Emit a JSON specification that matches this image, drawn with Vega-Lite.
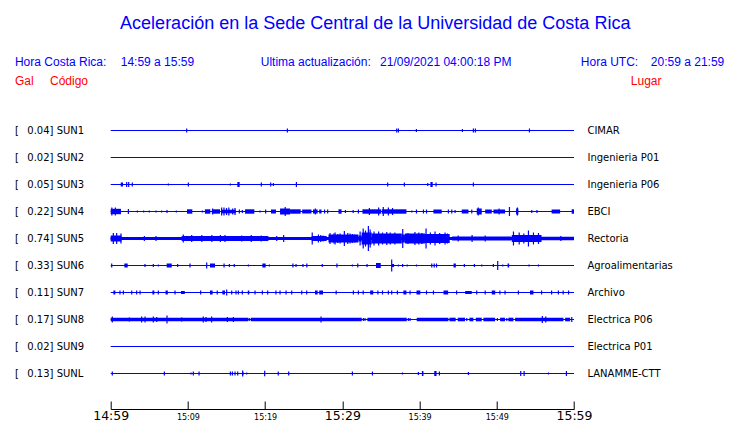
{
  "$schema": "https://vega.github.io/schema/vega-lite/v6.json",
  "autosize": {"type": "none"},
  "width": 463.3,
  "height": 243,
  "padding": {"left": 110.7, "top": 130.5, "right": 166, "bottom": 49.5},
  "background": "white",
  "config": {"view": {"stroke": null}},
  "datasets": {
    "stations": [
      {"s": "SUN1", "gal": "0.04", "lugar": "CIMAR"},
      {"s": "SUN2", "gal": "0.02", "lugar": "Ingenieria P01"},
      {"s": "SUN3", "gal": "0.05", "lugar": "Ingenieria P06"},
      {"s": "SUN4", "gal": "0.22", "lugar": "EBCI"},
      {"s": "SUN5", "gal": "0.74", "lugar": "Rectoria"},
      {"s": "SUN6", "gal": "0.33", "lugar": "Agroalimentarias"},
      {"s": "SUN7", "gal": "0.11", "lugar": "Archivo"},
      {"s": "SUN8", "gal": "0.17", "lugar": "Electrica P06"},
      {"s": "SUN9", "gal": "0.02", "lugar": "Electrica P01"},
      {"s": "SUNL", "gal": "0.13", "lugar": "LANAMME-CTT"}
    ],
    "spikes": [
      {"s":"SUN1","t":9.84,"a":2},{"s":"SUN1","t":22.88,"a":2},{"s":"SUN1","t":37.04,"a":2},{"s":"SUN1","t":37.26,"a":2},{"s":"SUN1","t":39.59,"a":1.5},{"s":"SUN1","t":45.55,"a":1.5},{"s":"SUN1","t":46.97,"a":2},{"s":"SUN1","t":47.23,"a":2},{"s":"SUN1","t":54.23,"a":2},
      {"s":"SUN3","t":2.07,"a":2.5},{"s":"SUN3","t":2.33,"a":2.5},{"s":"SUN3","t":2.8,"a":2},{"s":"SUN3","t":7.47,"a":1},{"s":"SUN3","t":10.06,"a":2},{"s":"SUN3","t":15.5,"a":1},{"s":"SUN3","t":19.51,"a":2},{"s":"SUN3","t":20.72,"a":2},{"s":"SUN3","t":21.07,"a":1.5},{"s":"SUN3","t":24.05,"a":2.5},{"s":"SUN3","t":35.87,"a":2},{"s":"SUN3","t":38.03,"a":2},{"s":"SUN3","t":41.06,"a":1.5},{"s":"SUN3","t":42.13,"a":2},{"s":"SUN3","t":46.97,"a":2},
      {"s":"SUN4","t":0.15,"a":4},{"s":"SUN4","t":0.6,"a":4},{"s":"SUN4","t":2.29,"a":2.5},{"s":"SUN4","t":3.45,"a":1},{"s":"SUN4","t":4.27,"a":1},{"s":"SUN4","t":5.0,"a":1},{"s":"SUN4","t":5.87,"a":1},{"s":"SUN4","t":6.6,"a":1},{"s":"SUN4","t":7.29,"a":1.5},{"s":"SUN4","t":8.5,"a":1},{"s":"SUN4","t":11.87,"a":1},{"s":"SUN4","t":13.2,"a":3},{"s":"SUN4","t":14.37,"a":4},{"s":"SUN4","t":14.67,"a":4},{"s":"SUN4","t":15.0,"a":3.5},{"s":"SUN4","t":15.3,"a":4},{"s":"SUN4","t":15.8,"a":3},{"s":"SUN4","t":16.1,"a":3.5},{"s":"SUN4","t":16.66,"a":2},{"s":"SUN4","t":17.05,"a":1.5},{"s":"SUN4","t":19.34,"a":1},{"s":"SUN4","t":20.07,"a":2},{"s":"SUN4","t":22.6,"a":4.5},{"s":"SUN4","t":26.5,"a":3},{"s":"SUN4","t":27.7,"a":2},{"s":"SUN4","t":28.1,"a":2},{"s":"SUN4","t":30.4,"a":1.5},{"s":"SUN4","t":31.4,"a":1.5},{"s":"SUN4","t":32.08,"a":2},{"s":"SUN4","t":33.5,"a":3.5},{"s":"SUN4","t":34.7,"a":4},{"s":"SUN4","t":35.3,"a":4.5},{"s":"SUN4","t":35.96,"a":4},{"s":"SUN4","t":36.5,"a":3.5},{"s":"SUN4","t":39.0,"a":1},{"s":"SUN4","t":39.6,"a":2},{"s":"SUN4","t":40.5,"a":2},{"s":"SUN4","t":40.9,"a":2},{"s":"SUN4","t":43.73,"a":2},{"s":"SUN4","t":44.17,"a":2},{"s":"SUN4","t":44.6,"a":1.5},{"s":"SUN4","t":46.76,"a":2},{"s":"SUN4","t":47.6,"a":4},{"s":"SUN4","t":50.3,"a":3},{"s":"SUN4","t":51.64,"a":4.5},{"s":"SUN4","t":52.67,"a":4},{"s":"SUN4","t":54.53,"a":1.5},{"s":"SUN4","t":55.2,"a":1.5},
      {"s":"SUN5","t":0.34,"a":5.5},{"s":"SUN5","t":0.77,"a":5.5},{"s":"SUN5","t":1.33,"a":5},{"s":"SUN5","t":4.36,"a":2.5},{"s":"SUN5","t":5.87,"a":2.5},{"s":"SUN5","t":9.4,"a":4},{"s":"SUN5","t":10.49,"a":3.5},{"s":"SUN5","t":11.8,"a":3.5},{"s":"SUN5","t":13.1,"a":3.5},{"s":"SUN5","t":14.2,"a":3.5},{"s":"SUN5","t":14.8,"a":3.5},{"s":"SUN5","t":16.96,"a":3},{"s":"SUN5","t":18.2,"a":3.5},{"s":"SUN5","t":19.5,"a":3},{"s":"SUN5","t":21.5,"a":2.5},{"s":"SUN5","t":22.4,"a":3.5},{"s":"SUN5","t":26.1,"a":6},{"s":"SUN5","t":26.9,"a":4},{"s":"SUN5","t":27.2,"a":3.5},{"s":"SUN5","t":27.5,"a":3},{"s":"SUN5","t":28.4,"a":5.5},{"s":"SUN5","t":28.9,"a":5},{"s":"SUN5","t":29.06,"a":6},{"s":"SUN5","t":29.4,"a":4.5},{"s":"SUN5","t":29.7,"a":5},{"s":"SUN5","t":30.26,"a":7.5},{"s":"SUN5","t":30.7,"a":5.5},{"s":"SUN5","t":31.0,"a":5},{"s":"SUN5","t":31.3,"a":4.5},{"s":"SUN5","t":31.6,"a":4},{"s":"SUN5","t":32.3,"a":7},{"s":"SUN5","t":32.7,"a":10},{"s":"SUN5","t":33.0,"a":8},{"s":"SUN5","t":33.37,"a":12.5},{"s":"SUN5","t":33.6,"a":9},{"s":"SUN5","t":34.1,"a":7},{"s":"SUN5","t":34.7,"a":7},{"s":"SUN5","t":35.2,"a":6},{"s":"SUN5","t":35.75,"a":6.5},{"s":"SUN5","t":36.2,"a":6},{"s":"SUN5","t":36.8,"a":6},{"s":"SUN5","t":37.82,"a":9.5},{"s":"SUN5","t":38.5,"a":5.5},{"s":"SUN5","t":39.4,"a":6.5},{"s":"SUN5","t":39.9,"a":6},{"s":"SUN5","t":40.3,"a":5.5},{"s":"SUN5","t":40.84,"a":10},{"s":"SUN5","t":41.4,"a":6},{"s":"SUN5","t":42.0,"a":7},{"s":"SUN5","t":42.6,"a":5.5},{"s":"SUN5","t":43.3,"a":6},{"s":"SUN5","t":43.6,"a":5},{"s":"SUN5","t":45.0,"a":3},{"s":"SUN5","t":46.8,"a":3.5},{"s":"SUN5","t":48.5,"a":3},{"s":"SUN5","t":52.16,"a":7},{"s":"SUN5","t":52.9,"a":6},{"s":"SUN5","t":53.5,"a":5},{"s":"SUN5","t":54.1,"a":8},{"s":"SUN5","t":54.75,"a":6},{"s":"SUN5","t":55.4,"a":5.5},{"s":"SUN5","t":58.3,"a":2.5},
      {"s":"SUN6","t":0.13,"a":2},{"s":"SUN6","t":4.44,"a":1.5},{"s":"SUN6","t":5.52,"a":1.5},{"s":"SUN6","t":6.17,"a":1},{"s":"SUN6","t":8.67,"a":1.5},{"s":"SUN6","t":10.27,"a":2},{"s":"SUN6","t":12.43,"a":3},{"s":"SUN6","t":14.68,"a":2},{"s":"SUN6","t":15.37,"a":1.5},{"s":"SUN6","t":16.0,"a":1.5},{"s":"SUN6","t":17.83,"a":1},{"s":"SUN6","t":20.55,"a":1},{"s":"SUN6","t":23.6,"a":2},{"s":"SUN6","t":24.0,"a":1.5},{"s":"SUN6","t":24.9,"a":1.5},{"s":"SUN6","t":25.4,"a":2},{"s":"SUN6","t":27.4,"a":1.5},{"s":"SUN6","t":29.3,"a":2},{"s":"SUN6","t":31.3,"a":1},{"s":"SUN6","t":32.0,"a":2},{"s":"SUN6","t":33.2,"a":1.5},{"s":"SUN6","t":36.39,"a":6},{"s":"SUN6","t":37.26,"a":1},{"s":"SUN6","t":37.8,"a":1.5},{"s":"SUN6","t":38.4,"a":1},{"s":"SUN6","t":39.6,"a":1},{"s":"SUN6","t":41.58,"a":2},{"s":"SUN6","t":41.9,"a":2},{"s":"SUN6","t":42.2,"a":2},{"s":"SUN6","t":45.8,"a":1.5},{"s":"SUN6","t":47.1,"a":1.5},{"s":"SUN6","t":48.05,"a":1},{"s":"SUN6","t":49.56,"a":1.5},{"s":"SUN6","t":50.12,"a":4.5},{"s":"SUN6","t":50.77,"a":1},{"s":"SUN6","t":54.18,"a":1},{"s":"SUN6","t":55.4,"a":1},
      {"s":"SUN7","t":1.2,"a":2},{"s":"SUN7","t":1.64,"a":2},{"s":"SUN7","t":2.72,"a":2},{"s":"SUN7","t":3.36,"a":2},{"s":"SUN7","t":3.8,"a":2},{"s":"SUN7","t":6.17,"a":2},{"s":"SUN7","t":8.33,"a":2},{"s":"SUN7","t":11.65,"a":2},{"s":"SUN7","t":13.8,"a":2},{"s":"SUN7","t":15.02,"a":3},{"s":"SUN7","t":15.67,"a":2},{"s":"SUN7","t":16.23,"a":2},{"s":"SUN7","t":16.53,"a":2},{"s":"SUN7","t":17.05,"a":2},{"s":"SUN7","t":18.69,"a":2},{"s":"SUN7","t":19.64,"a":2},{"s":"SUN7","t":20.33,"a":2},{"s":"SUN7","t":21.4,"a":2},{"s":"SUN7","t":21.93,"a":2},{"s":"SUN7","t":22.71,"a":2},{"s":"SUN7","t":23.44,"a":2},{"s":"SUN7","t":24.74,"a":2},{"s":"SUN7","t":25.38,"a":2},{"s":"SUN7","t":29.2,"a":2},{"s":"SUN7","t":31.43,"a":2},{"s":"SUN7","t":32.08,"a":2},{"s":"SUN7","t":32.7,"a":2},{"s":"SUN7","t":34.6,"a":2},{"s":"SUN7","t":35.2,"a":2},{"s":"SUN7","t":35.96,"a":2},{"s":"SUN7","t":36.39,"a":2},{"s":"SUN7","t":37.13,"a":2},{"s":"SUN7","t":38.77,"a":2},{"s":"SUN7","t":40.9,"a":2},{"s":"SUN7","t":41.8,"a":2},{"s":"SUN7","t":44.8,"a":2},{"s":"SUN7","t":47.4,"a":2},{"s":"SUN7","t":48.5,"a":2},{"s":"SUN7","t":50.4,"a":2},{"s":"SUN7","t":51.07,"a":2},{"s":"SUN7","t":52.8,"a":2},{"s":"SUN7","t":55.8,"a":2},{"s":"SUN7","t":57.1,"a":2},{"s":"SUN7","t":57.98,"a":2},{"s":"SUN7","t":58.6,"a":2},{"s":"SUN7","t":59.3,"a":2},
      {"s":"SUN8","t":0.21,"a":3},{"s":"SUN8","t":2.42,"a":2},{"s":"SUN8","t":4.01,"a":3},{"s":"SUN8","t":4.45,"a":3},{"s":"SUN8","t":5.52,"a":3},{"s":"SUN8","t":5.96,"a":2.5},{"s":"SUN8","t":7.29,"a":4},{"s":"SUN8","t":9.19,"a":2},{"s":"SUN8","t":11.99,"a":3},{"s":"SUN8","t":12.34,"a":2.5},{"s":"SUN8","t":13.07,"a":3},{"s":"SUN8","t":15.11,"a":2.5},{"s":"SUN8","t":15.88,"a":2.5},{"s":"SUN8","t":17.95,"a":1.5},{"s":"SUN8","t":27.24,"a":3},{"s":"SUN8","t":32.72,"a":1.5},{"s":"SUN8","t":32.94,"a":1.5},{"s":"SUN8","t":38.55,"a":1.5},{"s":"SUN8","t":38.77,"a":1.5},{"s":"SUN8","t":46.11,"a":1.5},{"s":"SUN8","t":50.08,"a":1.5},{"s":"SUN8","t":51.3,"a":1.5},{"s":"SUN8","t":55.9,"a":3.5},{"s":"SUN8","t":56.34,"a":3},{"s":"SUN8","t":59.71,"a":2.5},
      {"s":"SUNL","t":0.21,"a":2},{"s":"SUNL","t":6.95,"a":2},{"s":"SUNL","t":10.4,"a":1},{"s":"SUNL","t":10.7,"a":2},{"s":"SUNL","t":11.44,"a":2},{"s":"SUNL","t":15.5,"a":2},{"s":"SUNL","t":15.76,"a":2},{"s":"SUNL","t":16.1,"a":2},{"s":"SUNL","t":16.45,"a":2},{"s":"SUNL","t":17.09,"a":3},{"s":"SUNL","t":17.61,"a":1},{"s":"SUNL","t":19.94,"a":2.7},{"s":"SUNL","t":21.7,"a":2},{"s":"SUNL","t":23.05,"a":2},{"s":"SUNL","t":31.3,"a":2},{"s":"SUNL","t":33.9,"a":2},{"s":"SUNL","t":37.78,"a":1},{"s":"SUNL","t":39.85,"a":1.5},{"s":"SUNL","t":42.57,"a":2},{"s":"SUNL","t":46.33,"a":1.5},{"s":"SUNL","t":53.1,"a":2.5},{"s":"SUNL","t":53.54,"a":2.5},{"s":"SUNL","t":56.69,"a":1},{"s":"SUNL","t":59.02,"a":2.5}
    ],
    "bursts": [
      {"s":"SUN3","t":1.3,"t2":1.6,"a":2},{"s":"SUN3","t":16.4,"t2":16.7,"a":2.5},{"s":"SUN3","t":41.4,"t2":41.7,"a":2.5},
      {"s":"SUN4","t":0,"t2":1.33,"a":2.7},{"s":"SUN4","t":9.88,"t2":10.57,"a":2.2},{"s":"SUN4","t":12.2,"t2":12.9,"a":2.2},{"s":"SUN4","t":13.1,"t2":14.16,"a":2.2},{"s":"SUN4","t":14.3,"t2":16.2,"a":1.8},{"s":"SUN4","t":17.4,"t2":18.6,"a":2.2},{"s":"SUN4","t":20.76,"t2":21.4,"a":2},{"s":"SUN4","t":21.93,"t2":23.23,"a":3},{"s":"SUN4","t":23.23,"t2":24.6,"a":2.2},{"s":"SUN4","t":24.8,"t2":26.0,"a":2},{"s":"SUN4","t":26.2,"t2":26.8,"a":2},{"s":"SUN4","t":27.0,"t2":27.3,"a":2},{"s":"SUN4","t":29.5,"t2":29.9,"a":2.2},{"s":"SUN4","t":32.6,"t2":35.0,"a":2.2},{"s":"SUN4","t":35.1,"t2":38.3,"a":2.2},{"s":"SUN4","t":41.79,"t2":42.87,"a":2},{"s":"SUN4","t":45.46,"t2":46.33,"a":2},{"s":"SUN4","t":47.4,"t2":48.05,"a":3},{"s":"SUN4","t":48.5,"t2":49.35,"a":2},{"s":"SUN4","t":49.57,"t2":51.07,"a":2},{"s":"SUN4","t":52.5,"t2":52.8,"a":3},{"s":"SUN4","t":57.1,"t2":58.2,"a":2},{"s":"SUN4","t":59.7,"t2":60,"a":2.2},
      {"s":"SUN5","t":0,"t2":60,"a":1.6},{"s":"SUN5","t":0,"t2":1.4,"a":3},{"s":"SUN5","t":9.19,"t2":20.42,"a":2.5},{"s":"SUN5","t":26.03,"t2":27.97,"a":2.5},{"s":"SUN5","t":28.2,"t2":32.08,"a":4},{"s":"SUN5","t":32.08,"t2":32.5,"a":3},{"s":"SUN5","t":32.5,"t2":33.8,"a":6},{"s":"SUN5","t":33.8,"t2":37.7,"a":5},{"s":"SUN5","t":37.7,"t2":38.1,"a":4},{"s":"SUN5","t":38.1,"t2":40.7,"a":5},{"s":"SUN5","t":40.7,"t2":43.9,"a":4.5},{"s":"SUN5","t":44.2,"t2":51.9,"a":2},{"s":"SUN5","t":51.94,"t2":55.8,"a":3.5},{"s":"SUN5","t":55.8,"t2":60,"a":1.8},
      {"s":"SUN6","t":1.77,"t2":2.2,"a":2},{"s":"SUN6","t":7.25,"t2":7.9,"a":2},{"s":"SUN6","t":12.86,"t2":13.51,"a":2},{"s":"SUN6","t":19.64,"t2":20.07,"a":2},{"s":"SUN6","t":34.36,"t2":34.97,"a":2.5},{"s":"SUN6","t":36.4,"t2":36.7,"a":1.5},{"s":"SUN6","t":44.4,"t2":44.7,"a":2},{"s":"SUN6","t":51.4,"t2":51.6,"a":2},
      {"s":"SUN7","t":0.35,"t2":0.6,"a":2},{"s":"SUN7","t":5.4,"t2":5.65,"a":2},{"s":"SUN7","t":7.1,"t2":7.4,"a":2},{"s":"SUN7","t":9.1,"t2":9.6,"a":1.5},{"s":"SUN7","t":12.86,"t2":13.2,"a":2},{"s":"SUN7","t":14.46,"t2":14.8,"a":2},{"s":"SUN7","t":17.75,"t2":17.95,"a":2},{"s":"SUN7","t":26.46,"t2":26.8,"a":2},{"s":"SUN7","t":27.0,"t2":27.5,"a":2},{"s":"SUN7","t":33.6,"t2":34.0,"a":2},{"s":"SUN7","t":37.9,"t2":38.3,"a":2},{"s":"SUN7","t":39.6,"t2":40.1,"a":2},{"s":"SUN7","t":43.1,"t2":43.7,"a":2},{"s":"SUN7","t":45.9,"t2":46.76,"a":1.5},{"s":"SUN7","t":49.35,"t2":49.8,"a":2},{"s":"SUN7","t":54.3,"t2":54.75,"a":2},
      {"s":"SUN8","t":0,"t2":17.83,"a":1.8},{"s":"SUN8","t":18.13,"t2":32.51,"a":1.8},{"s":"SUN8","t":33.24,"t2":38.34,"a":1.8},{"s":"SUN8","t":39.63,"t2":43.74,"a":1.8},{"s":"SUN8","t":43.87,"t2":44.68,"a":1.8},{"s":"SUN8","t":44.94,"t2":45.89,"a":1.8},{"s":"SUN8","t":46.45,"t2":46.97,"a":1.8},{"s":"SUN8","t":47.28,"t2":48.05,"a":1.8},{"s":"SUN8","t":48.27,"t2":49.78,"a":1.8},{"s":"SUN8","t":50.43,"t2":51.07,"a":1.8},{"s":"SUN8","t":51.5,"t2":52.15,"a":1.8},{"s":"SUN8","t":52.37,"t2":58.63,"a":1.8},{"s":"SUN8","t":58.85,"t2":59.5,"a":1.8},
      {"s":"SUNL","t":17.0,"t2":17.2,"a":1.5},{"s":"SUNL","t":40.3,"t2":40.5,"a":2.5},{"s":"SUNL","t":41.9,"t2":42.2,"a":2.5}
    ]
  },
  "layer": [
    {
      "data": {"name": "stations"},
      "transform": [{"calculate": "-27*indexof(['SUN1','SUN2','SUN3','SUN4','SUN5','SUN6','SUN7','SUN8','SUN9','SUNL'], datum.s)", "as": "yc"}],
      "mark": {"type": "rule", "color": "#0000ff", "strokeWidth": 1},
      "encoding": {
        "x": {"datum": 0, "type": "quantitative", "title": null,
          "scale": {"domain": [0, 60], "nice": false, "zero": false},
          "axis": {"values": [0,5,10,15,20,25,30,35,40,45,50,55,60],
            "labelExpr": "datum.value % 10 ? '' : (datum.value == 0 ? '14:59' : '15:' + (datum.value < 11 ? '0' : '') + (datum.value - 1))",
            "offset": 35.5, "grid": false, "title": null,
            "domainColor": "#000000", "domainWidth": 1, "tickColor": "#000000", "tickWidth": 1, "tickSize": -8,
            "labelColor": "#000000", "labelFont": "DejaVu Sans",
            "labelFontSize": {"condition": {"test": "datum.value % 30 == 0", "value": 12.5}, "value": 8},
            "labelFlush": false, "labelOverlap": false, "labelBaseline": "alphabetic", "labelPadding": 18}},
        "x2": {"datum": 60},
        "y": {"field": "yc", "type": "quantitative", "scale": {"domain": [-243, 0], "nice": false, "zero": false}, "axis": null}
      }
    },
    {
      "data": {"name": "bursts"},
      "transform": [
        {"calculate": "-27*indexof(['SUN1','SUN2','SUN3','SUN4','SUN5','SUN6','SUN7','SUN8','SUN9','SUNL'], datum.s)", "as": "yc"},
        {"calculate": "datum.yc + datum.a", "as": "top"},
        {"calculate": "datum.yc - datum.a", "as": "bot"}
      ],
      "mark": {"type": "rect", "color": "#0000ff"},
      "encoding": {
        "x": {"field": "t", "type": "quantitative", "title": null},
        "x2": {"field": "t2"},
        "y": {"field": "top", "type": "quantitative", "axis": null, "title": null},
        "y2": {"field": "bot"}
      }
    },
    {
      "data": {"name": "spikes"},
      "transform": [
        {"calculate": "-27*indexof(['SUN1','SUN2','SUN3','SUN4','SUN5','SUN6','SUN7','SUN8','SUN9','SUNL'], datum.s)", "as": "yc"},
        {"calculate": "datum.yc + datum.a", "as": "top"},
        {"calculate": "datum.yc - datum.a", "as": "bot"}
      ],
      "mark": {"type": "rule", "color": "#0000ff", "strokeWidth": 1.2},
      "encoding": {
        "x": {"field": "t", "type": "quantitative", "title": null},
        "y": {"field": "top", "type": "quantitative", "axis": null, "title": null},
        "y2": {"field": "bot"}
      }
    },
    {
      "data": {"name": "stations"},
      "transform": [
        {"calculate": "-27*indexof(['SUN1','SUN2','SUN3','SUN4','SUN5','SUN6','SUN7','SUN8','SUN9','SUNL'], datum.s)", "as": "yc"},
        {"calculate": "datum.gal + '] ' + datum.s", "as": "lab"}
      ],
      "mark": {"type": "text", "align": "left", "baseline": "middle", "font": "DejaVu Sans", "fontSize": 10, "color": "#000000"},
      "encoding": {
        "x": {"datum": -10.8, "type": "quantitative"},
        "y": {"field": "yc", "type": "quantitative", "axis": null, "title": null},
        "text": {"field": "lab"}
      }
    },
    {
      "data": {"name": "stations"},
      "transform": [
        {"calculate": "-27*indexof(['SUN1','SUN2','SUN3','SUN4','SUN5','SUN6','SUN7','SUN8','SUN9','SUNL'], datum.s)", "as": "yc"}
      ],
      "mark": {"type": "text", "align": "left", "baseline": "middle", "font": "DejaVu Sans", "fontSize": 10, "color": "#000000", "text": "["},
      "encoding": {
        "x": {"datum": -12.4, "type": "quantitative"},
        "y": {"field": "yc", "type": "quantitative", "axis": null, "title": null}
      }
    },
    {
      "data": {"name": "stations"},
      "transform": [
        {"calculate": "-27*indexof(['SUN1','SUN2','SUN3','SUN4','SUN5','SUN6','SUN7','SUN8','SUN9','SUNL'], datum.s)", "as": "yc"}
      ],
      "mark": {"type": "text", "align": "left", "baseline": "middle", "font": "DejaVu Sans", "fontSize": 10, "color": "#000000"},
      "encoding": {
        "x": {"datum": 61.74, "type": "quantitative"},
        "y": {"field": "yc", "type": "quantitative", "axis": null, "title": null},
        "text": {"field": "lugar"}
      }
    },
    {
      "data": {"values": [{"txt": "Aceleración en la Sede Central de la Universidad de Costa Rica"}]},
      "mark": {"type": "text", "align": "center", "baseline": "alphabetic", "font": "Liberation Sans", "fontSize": 18, "color": "#0000ff"},
      "encoding": {"x": {"datum": 34.26, "type": "quantitative"}, "y": {"datum": 101.5, "type": "quantitative"}, "text": {"field": "txt"}}
    },
    {
      "data": {"values": [{"txt": "Hora Costa Rica:"}]},
      "mark": {"type": "text", "align": "left", "baseline": "alphabetic", "font": "Liberation Sans", "fontSize": 12, "color": "#0000ff"},
      "encoding": {"x": {"datum": -12.4, "type": "quantitative"}, "y": {"datum": 64.5, "type": "quantitative"}, "text": {"field": "txt"}}
    },
    {
      "data": {"values": [{"txt": "14:59 a 15:59"}]},
      "mark": {"type": "text", "align": "left", "baseline": "alphabetic", "font": "Liberation Sans", "fontSize": 12, "color": "#0000ff"},
      "encoding": {"x": {"datum": 1.3, "type": "quantitative"}, "y": {"datum": 64.5, "type": "quantitative"}, "text": {"field": "txt"}}
    },
    {
      "data": {"values": [{"txt": "Ultima actualización:"}]},
      "mark": {"type": "text", "align": "left", "baseline": "alphabetic", "font": "Liberation Sans", "fontSize": 12, "color": "#0000ff"},
      "encoding": {"x": {"datum": 19.43, "type": "quantitative"}, "y": {"datum": 64.5, "type": "quantitative"}, "text": {"field": "txt"}}
    },
    {
      "data": {"values": [{"txt": "21/09/2021 04:00:18 PM"}]},
      "mark": {"type": "text", "align": "left", "baseline": "alphabetic", "font": "Liberation Sans", "fontSize": 12, "color": "#0000ff"},
      "encoding": {"x": {"datum": 34.88, "type": "quantitative"}, "y": {"datum": 64.5, "type": "quantitative"}, "text": {"field": "txt"}}
    },
    {
      "data": {"values": [{"txt": "Hora UTC:"}]},
      "mark": {"type": "text", "align": "left", "baseline": "alphabetic", "font": "Liberation Sans", "fontSize": 12, "color": "#0000ff"},
      "encoding": {"x": {"datum": 60.88, "type": "quantitative"}, "y": {"datum": 64.5, "type": "quantitative"}, "text": {"field": "txt"}}
    },
    {
      "data": {"values": [{"txt": "20:59 a 21:59"}]},
      "mark": {"type": "text", "align": "left", "baseline": "alphabetic", "font": "Liberation Sans", "fontSize": 12, "color": "#0000ff"},
      "encoding": {"x": {"datum": 69.95, "type": "quantitative"}, "y": {"datum": 64.5, "type": "quantitative"}, "text": {"field": "txt"}}
    },
    {
      "data": {"values": [{"txt": "Gal"}]},
      "mark": {"type": "text", "align": "left", "baseline": "alphabetic", "font": "Liberation Sans", "fontSize": 12, "color": "#ff0000"},
      "encoding": {"x": {"datum": -12.4, "type": "quantitative"}, "y": {"datum": 45.5, "type": "quantitative"}, "text": {"field": "txt"}}
    },
    {
      "data": {"values": [{"txt": "Código"}]},
      "mark": {"type": "text", "align": "left", "baseline": "alphabetic", "font": "Liberation Sans", "fontSize": 12, "color": "#ff0000"},
      "encoding": {"x": {"datum": -7.86, "type": "quantitative"}, "y": {"datum": 45.5, "type": "quantitative"}, "text": {"field": "txt"}}
    },
    {
      "data": {"values": [{"txt": "Lugar"}]},
      "mark": {"type": "text", "align": "left", "baseline": "alphabetic", "font": "Liberation Sans", "fontSize": 12, "color": "#ff0000"},
      "encoding": {"x": {"datum": 67.36, "type": "quantitative"}, "y": {"datum": 45.5, "type": "quantitative"}, "text": {"field": "txt"}}
    }
  ]
}
